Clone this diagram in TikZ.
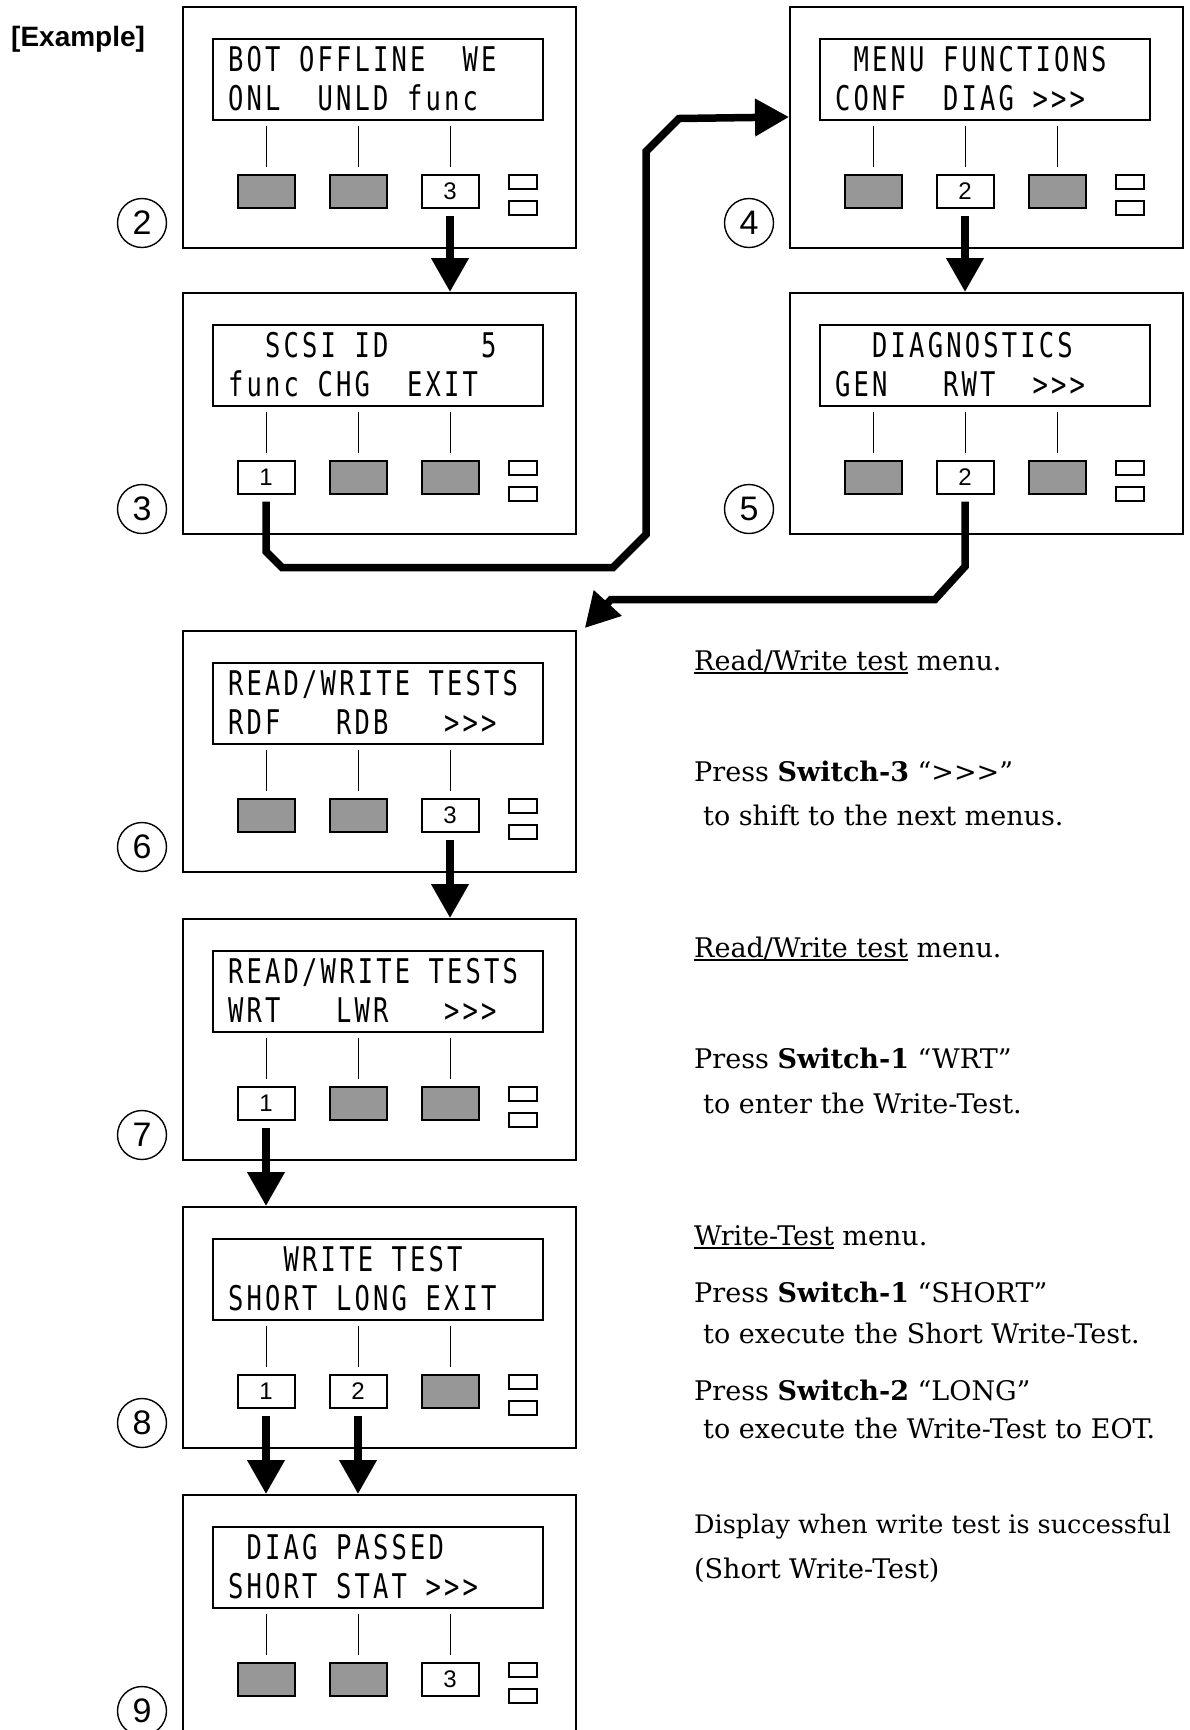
\documentclass[tikz,border=0pt]{standalone}
\usepackage{fontspec}
\usetikzlibrary{arrows.meta,positioning,calc}
\setmainfont{DejaVu Serif}
\newfontfamily\lcdfont{DejaVu Sans Mono}[FakeStretch=0.75,LetterSpace=9.3]
\newfontfamily\keyfont{Liberation Sans}
\definecolor{cKey}{HTML}{979797}
\newlength\ulwd
\newcommand\ulin[1]{\settowidth\ulwd{#1}\rlap{\rule[-3.5pt]{\ulwd}{1.7pt}}#1}
\tikzset{
  panel/.style={draw,line width=1.8pt,minimum width=393pt,minimum height=241pt,
                anchor=north west,inner sep=0pt},
  lcd/.style={draw,line width=2pt,minimum width=330pt,minimum height=81pt,inner sep=0pt},
  lcdtext/.style={anchor=base west,inner sep=0pt,font=\lcdfont\fontsize{34}{34}\selectfont},
  key/.style={draw,line width=2pt,fill=cKey,minimum width=57pt,minimum height=33pt,
              inner sep=0pt},
  keyon/.style={key,fill=white,font=\keyfont\fontsize{24}{24}\selectfont},
  lamp/.style={draw,line width=1.8pt,minimum width=28pt,minimum height=13.5pt,inner sep=0pt},
  tick/.style={line width=1pt},
  num/.style={circle,draw,line width=1.4pt,minimum size=49pt,inner sep=0pt,
              font=\keyfont\fontsize{34}{34}\selectfont},
  flow/.style={line width=7.5pt,-{Triangle[length=34pt,width=36pt]}},
  note/.style={anchor=base west,inner sep=0pt,font=\fontsize{27}{33}\selectfont},
}
% #1 name, #2 top left, #3 step, #4/#5 lcd lines, #6 keys
\newcommand\lcdpanel[6]{%
  \begin{scope}[shift={(#2)}]
    \node[panel] (#1) at (0,0) {};
    \node[lcd] (#1lcd) at (196,73.5) {};
    \node[lcdtext] (#1la) at (46,65) {#4};
    \node[lcdtext] (#1lb) at (46,104) {#5};
    \foreach \s/\t [count=\i] in {#6}{
      \pgfmathsetmacro\kx{84+(\i-1)*92}
      \draw[tick] (\kx,120) -- (\kx,161);
      \node[\s] (#1b\i) at (\kx,185) {\t};
    }
    \node[lamp] (#1ma) at (341,176) {};
    \node[lamp] (#1mb) at (341,202) {};
    \node[num] (#1n) at (-40,217) {#3};
  \end{scope}}

\begin{document}
\begin{tikzpicture}[x=1pt,y=-1pt]
  \useasboundingbox (0,0) rectangle (1190,1730);
  \node[anchor=base west,inner sep=0pt,font=\keyfont\bfseries\fontsize{28}{28}\selectfont]
    (title) at (11,46) {[Example]};

  \lcdpanel{p2}{182,6}{2}{BOT OFFLINE~~WE}{ONL~~UNLD func}{key/{},key/{},keyon/3}
  \lcdpanel{p3}{182,292}{3}{~~SCSI ID~~~~~5}{func CHG~~EXIT}{keyon/1,key/{},key/{}}
  \lcdpanel{p4}{789,6}{4}{~MENU FUNCTIONS}{CONF~~DIAG >>>}{key/{},keyon/2,key/{}}
  \lcdpanel{p5}{789,292}{5}{~~DIAGNOSTICS}{GEN~~~RWT~~>>>}{key/{},keyon/2,key/{}}
  \lcdpanel{p6}{182,630}{6}{READ/WRITE TESTS}{RDF~~~RDB~~~>>>}{key/{},key/{},keyon/3}
  \lcdpanel{p7}{182,918}{7}{READ/WRITE TESTS}{WRT~~~LWR~~~>>>}{keyon/1,key/{},key/{}}
  \lcdpanel{p8}{182,1206}{8}{~~~WRITE TEST}{SHORT LONG EXIT}{keyon/1,keyon/2,key/{}}
  \lcdpanel{p9}{182,1494}{9}{~DIAG PASSED}{SHORT STAT >>>}{key/{},key/{},keyon/3}

  \coordinate (p4in) at ($(p4.north west)+(0,111)$);
  \coordinate (p6in) at ([shift={(8pt,2pt)}]p6.north east);

  \draw[flow] ([yshift=-7pt]p2b3.south) -- (p2b3.south |- p3.north);
  \draw[flow] ([yshift=-7pt]p3b1.south) -- ++(0,50) -- ++(16,16) -- ++(331,0)
    -- ++(33,-33) -- ++(0,-383) -- ++(33,-33) -- (p4in);
  \draw[flow] ([yshift=-7pt]p4b2.south) -- (p4b2.south |- p5.north);
  \draw[flow] ([yshift=-7pt]p5b2.south) -- ++(0,65) -- ++(-30,33) -- ++(-324,0) -- (p6in);
  \draw[flow] ([yshift=-7pt]p6b3.south) -- (p6b3.south |- p7.north);
  \draw[flow] ([yshift=-7pt]p7b1.south) -- (p7b1.south |- p8.north);
  \foreach \k in {1,2}
    \draw[flow] ([yshift=-7pt]p8b\k.south) -- (p8b\k.south |- p9.north);

  \node[note] (n6a) at (694,670) {\ulin{Read/Write test} menu.};
  \node[note] (n6b) at (694,781) {Press \textbf{Switch-3} “>{}>{}>”};
  \node[note] (n6c) at (703,825) {to shift to the next menus.};
  \node[note] (n7a) at (694,957) {\ulin{Read/Write test} menu.};
  \node[note] (n7b) at (694,1068) {Press \textbf{Switch-1} “WRT”};
  \node[note] (n7c) at (703,1113) {to enter the Write-Test.};
  \node[note] (n8a) at (694,1245) {\ulin{Write-Test} menu.};
  \node[note] (n8b) at (694,1302) {Press \textbf{Switch-1} “SHORT”};
  \node[note] (n8c) at (703,1343) {to execute the Short Write-Test.};
  \node[note] (n8d) at (694,1400) {Press \textbf{Switch-2} “LONG”};
  \node[note] (n8e) at (703,1438) {to execute the Write-Test to EOT.};
  \node[note,font=\fontsize{25.5}{33}\selectfont] (n9a) at (694,1533)
    {Display when write test is successful};
  \node[note] (n9b) at (694,1578) {(Short Write-Test)};
\end{tikzpicture}
\end{document}
